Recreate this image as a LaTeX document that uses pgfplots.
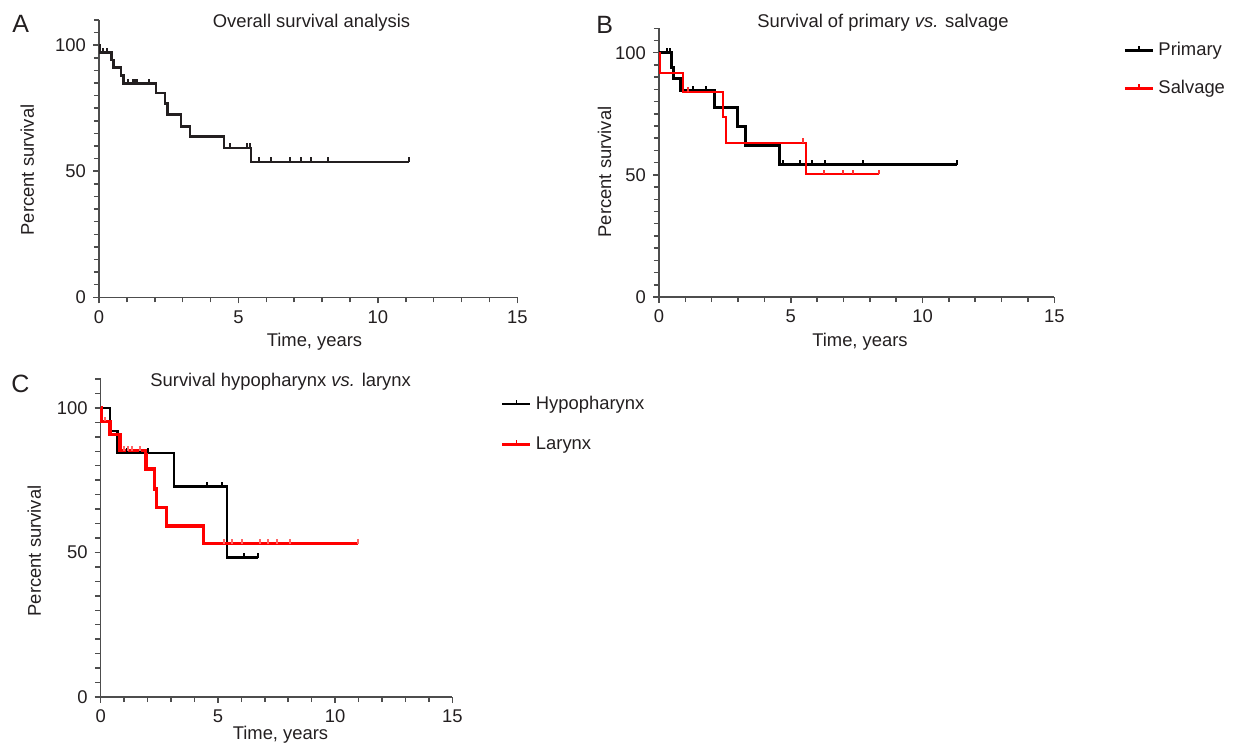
\documentclass[border=0pt]{standalone}
\usepackage{pgfplots}
\pgfplotsset{compat=1.18}
\usepackage{fontspec}
\setmainfont{Liberation Sans}
\definecolor{txt}{HTML}{231F20}
\definecolor{axc}{HTML}{4D4D4D}
\definecolor{kmred}{HTML}{FF0000}
\pgfdeclareplotmark{cens}{\pgfpathmoveto{\pgfqpoint{0pt}{0pt}}\pgfpathlineto{\pgfqpoint{0pt}{\pgfplotmarksize}}\pgfusepathqstroke}
\newcommand{\tfont}{\fontsize{9.2}{10.5}\selectfont}
\pgfplotsset{kmaxis/.style={
  scale only axis, axis lines=left, axis line style={-, axc, line width=0.75pt},
  xmin=0,xmax=15,ymin=0,ymax=110,
  xtick={0,5,10,15}, ytick={0,50,100},
  minor xtick={0,1,...,15},
  minor ytick={0,5,...,110},
  tick align=outside, major tick length=3pt, minor tick length=2.6pt,
  every tick/.style={axc, line width=0.75pt},
  every minor tick/.style={axc, line width=0.75pt},
  every tick label/.append style={font=\tfont, text=txt},
  /pgf/number format/assume math mode=true,
  clip=false,
  legend image code/.code={\draw[##1] (0pt,0pt) -- (14pt,0pt); \draw[##1, line width=0.7pt] (7pt,0pt) -- (7pt,2.2pt);},
  legend cell align=left,
},
cens/.style={only marks, mark=cens, mark size=2.3pt, line width=1pt, forget plot}}
\begin{document}
\begin{tikzpicture}
% Panel A
\begin{axis}[kmaxis, at={(49.5pt,223.35pt)}, anchor=south west, width=209.15pt, height=138.65pt]
\addplot[const plot, draw=txt, line width=1.3pt] coordinates {
(0,100) (0.04,97.1) (0.45,94.2) (0.51,91.2) (0.79,88.0) (0.87,84.7) (2.04,81.0) (2.37,76.8) (2.46,72.5) (2.94,67.8) (3.26,63.7) (4.48,59.2) (5.45,53.7) (11.1,53.7)};
\addplot[cens, draw=txt] coordinates {
(0.15,97.1)(0.28,97.1)(1.03,84.7)(1.23,84.7)(1.29,84.7)(1.35,84.7)(1.79,84.7)(4.68,59.2)(5.3,59.2)(5.4,59.2)(5.72,53.7)(6.18,53.7)(6.86,53.7)(7.25,53.7)(7.62,53.7)(8.2,53.7)(11.1,53.7)};
\end{axis}
% Panel B
\begin{axis}[kmaxis, at={(329.5pt,223.5pt)}, anchor=south west, width=197.65pt, height=134.35pt,
  legend style={draw=none, fill=none, at={(1.174,0.965)}, anchor=north west, font=\tfont, text=txt, row sep=7pt, inner sep=0pt}]
\addplot[const plot, draw=black, line width=1.5pt] coordinates {
(0,100)(0.48,94.1)(0.54,89.3)(0.82,84.6)(2.09,77.7)(2.97,69.9)(3.29,62.1)(4.57,54.2)(11.32,54.2)};
\addlegendentry{Primary}
\addplot[const plot, draw=kmred, line width=1.1pt] coordinates {
(0,100)(0.04,91.6)(0.92,83.9)(2.44,73.7)(2.53,63.0)(5.58,50.2)(8.35,50.2)};
\addlegendentry{Salvage}
\addplot[cens, draw=black] coordinates {
(0.29,100)(0.42,100)(1.28,84.6)(1.77,84.6)(4.72,54.2)(5.36,54.2)(5.82,54.2)(6.31,54.2)(7.75,54.2)(11.32,54.2)};
\addplot[cens, draw=kmred!80] coordinates {
(1.1,83.9)(5.48,63.0)(6.25,50.2)(7.0,50.2)(7.37,50.2)(8.35,50.2)};
\end{axis}
% Panel C
\begin{axis}[kmaxis, at={(50.35pt,23.5pt)}, anchor=south west, width=175.8pt, height=159pt,
  legend style={draw=none, fill=none, at={(1.136,0.96)}, anchor=north west, font=\tfont, text=txt, row sep=8pt, inner sep=0pt}]
\addplot[const plot, draw=black, line width=1.2pt] coordinates {
(0,100)(0.4,92.1)(0.71,84.4)(3.13,72.8)(5.40,48.2)(6.7,48.2)};
\addlegendentry{Hypopharynx}
\addplot[const plot, draw=kmred, line width=1.7pt] coordinates {
(0,100)(0.03,95.4)(0.4,90.9)(0.82,85.2)(1.93,78.9)(2.29,72.0)(2.39,65.6)(2.8,59.1)(4.39,53.0)(10.99,53.0)};
\addlegendentry{Larynx}
\addplot[cens, draw=black] coordinates {
(1.14,84.4)(1.68,84.4)(2.03,84.4)(4.55,72.8)(5.16,72.8)(6.1,48.2)(6.7,48.2)};
\addplot[cens, draw=kmred!60] coordinates {
(0.18,95.4)(1.01,85.2)(1.18,85.2)(1.32,85.2)(1.68,85.2)(5.26,53)(5.61,53)(6.04,53)(6.78,53)(7.15,53)(7.5,53)(8.07,53)(10.99,53)};
\end{axis}
% Text
\begin{scope}[x=0.5pt,y=-0.5pt,shift={(0pt,372pt)}, every node/.style={text=txt, inner sep=0pt}]
\node[anchor=base west, font=\fontsize{12.5}{14}\selectfont] at (12,33) {A};
\node[anchor=base west, font=\fontsize{12.5}{14}\selectfont] at (596,34) {B};
\node[anchor=base west, font=\fontsize{12.5}{14}\selectfont] at (11,393) {C};
\node[anchor=base, font=\tfont] at (311.5,27.3) {Overall survival analysis};
\node[anchor=base west, font=\tfont] at (757,27.3) {Survival of primary \textit{vs.} salvage};
\node[anchor=base west, font=\tfont] at (150,386.7) {Survival hypopharynx \textit{vs.} larynx};
\node[anchor=base, font=\tfont] at (314.5,347) {Time, years};
\node[anchor=base, font=\tfont] at (860,347) {Time, years};
\node[anchor=base, font=\tfont] at (280.5,739.3) {Time, years};
\node[anchor=base, rotate=90, font=\tfont] at (34,170) {Percent survival};
\node[anchor=base, rotate=90, font=\tfont] at (611,172) {Percent survival};
\node[anchor=base, rotate=90, font=\tfont] at (41,551) {Percent survival};
\end{scope}
\pgfresetboundingbox
\useasboundingbox (0,0) rectangle (616.5pt,372pt);
\end{tikzpicture}
\end{document}
